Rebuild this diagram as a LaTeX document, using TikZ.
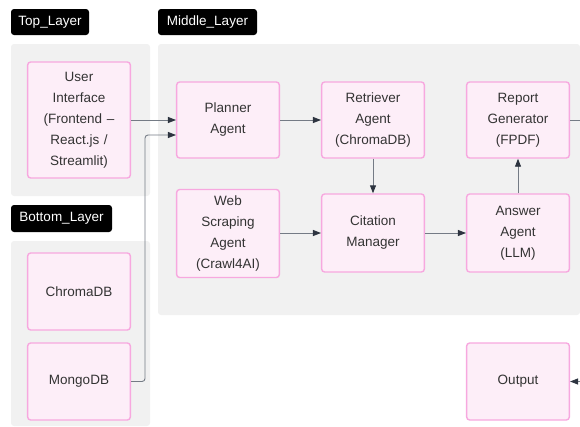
\documentclass[tikz,border=0pt]{standalone}
\usepackage{fontspec}
\setmainfont{Liberation Sans}
\usetikzlibrary{arrows.meta}
\definecolor{boxfill}{HTML}{FDEEF8}
\definecolor{boxline}{HTML}{F7A8DF}
\definecolor{groupbg}{HTML}{F1F1F1}
\definecolor{txt}{HTML}{333333}
\definecolor{wire}{HTML}{747B85}
\definecolor{tip}{HTML}{2D3440}
\tikzset{
  block/.style={draw=boxline, fill=boxfill, line width=1.4pt, rounded corners=3pt,
    minimum width=102pt, text width=96pt, align=center, text=txt,
    font=\fontsize{13.5}{21}\selectfont},
  tag/.style={fill=black, rounded corners=3pt, text=white, inner sep=0pt,
    font=\fontsize{13.5}{16}\selectfont},
  arr/.style={draw=wire, line width=0.9pt, rounded corners=3pt,
    -{Stealth[length=8pt,width=6pt,inset=0pt,color=tip]}}
}

\begin{document}
\begin{tikzpicture}[x=1pt, y=-1pt]
    \useasboundingbox (0,0) rectangle (580,426);

    % group backgrounds
    \fill[groupbg, rounded corners=3pt] (11,44) rectangle (150,196);
    \fill[groupbg, rounded corners=3pt] (158,44) rectangle (580,315);
    \fill[groupbg, rounded corners=3pt] (11,241) rectangle (150,426);

    % group labels
    \node[tag, minimum width=78pt, minimum height=26pt] (toplbl) at (50,22) {Top\_Layer};
    \node[tag, minimum width=99pt, minimum height=26pt] (midlbl) at (207.5,22) {Middle\_Layer};
    \node[tag, minimum width=101pt, minimum height=27pt] (botlbl) at (61.5,218.5) {Bottom\_Layer};

    % Top layer
    \node[block, minimum height=116pt] (ui) at (79,120) {User\\Interface\\(Frontend --\\React.js /\\Streamlit)};

    % Middle layer
    \node[block, minimum height=76pt] (planner) at (228,120) {Planner\\Agent};
    \node[block, minimum height=76pt] (retriever) at (373,120) {Retriever\\Agent\\(ChromaDB)};
    \node[block, minimum height=76pt] (report) at (518,120) {Report\\Generator\\(FPDF)};
    \node[block, minimum height=88pt] (web) at (228,233.5) {Web\\Scraping\\Agent\\(Crawl4AI)};
    \node[block, minimum height=78pt] (citation) at (373,233) {Citation\\Manager};
    \node[block, minimum height=78pt] (answer) at (518,233) {Answer\\Agent\\(LLM)};

    % Bottom layer
    \node[block, minimum height=77pt] (chroma) at (79,291.5) {ChromaDB};
    \node[block, minimum height=77pt] (mongo) at (79,381.5) {MongoDB};

    % Output
    \node[block, minimum height=77pt] (output) at (518,381.5) {Output};

    % loose ends at the right edge
    \coordinate (rightA) at (580,120);
    \coordinate (rightB) at (580,381.5);

    % connectors
    \draw[arr] (ui) -- (planner);
    \draw[arr] (mongo.east) -- ++(14,0) |- ([yshift=-15pt]planner.west);
    \draw[arr] (planner) -- (retriever);
    \draw[arr] (retriever) -- (citation);
    \draw[arr] (web.east |- citation) -- (citation);
    \draw[arr] (citation) -- (answer);
    \draw[arr] (answer) -- (report);
    \draw[draw=wire, line width=0.9pt] (report) -- (rightA);
    \draw[arr] (rightB) -- (output);
\end{tikzpicture}
\end{document}
